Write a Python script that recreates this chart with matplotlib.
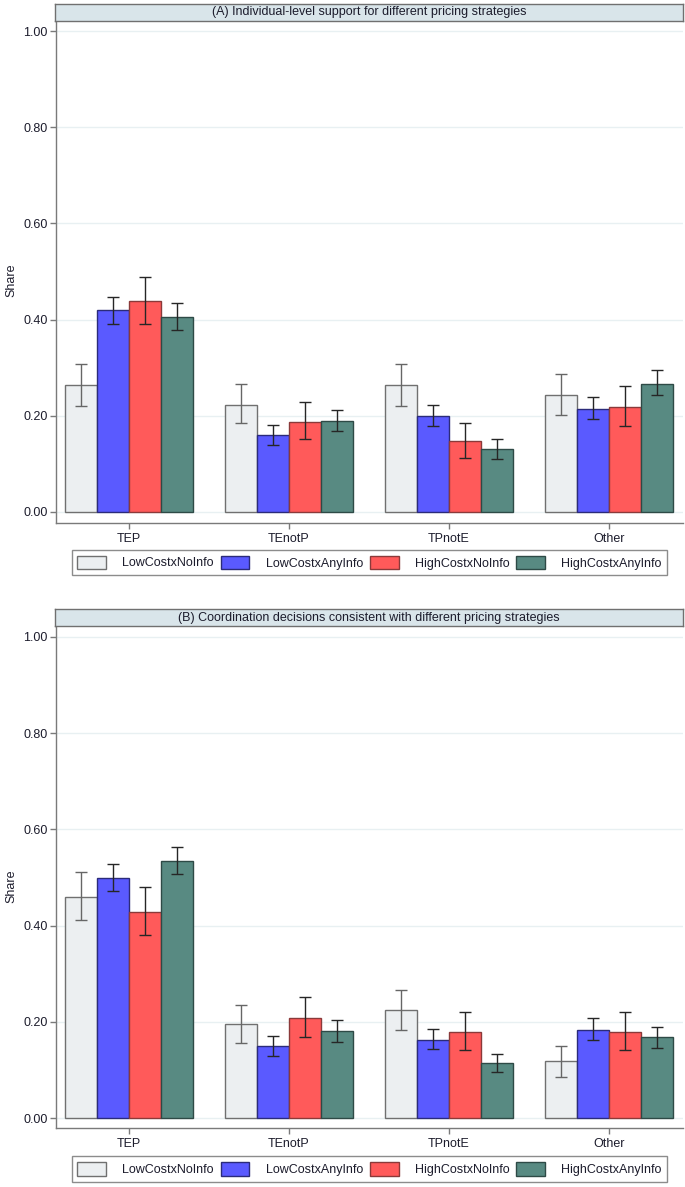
import numpy as np
import matplotlib
matplotlib.use('Agg')
import matplotlib.pyplot as plt
from matplotlib.patches import Patch

plt.rcParams['font.family'] = ['Liberation Sans', 'DejaVu Sans']

categories = ['TEP', 'TEnotP', 'TPnotE', 'Other']
groups = ['LowCostxNoInfo', 'LowCostxAnyInfo', 'HighCostxNoInfo', 'HighCostxAnyInfo']

# panel A: share, lower ci, upper ci (rows = groups, cols = categories)
a_val = [[0.263, 0.223, 0.263, 0.244],
         [0.419, 0.160, 0.199, 0.215],
         [0.438, 0.188, 0.148, 0.218],
         [0.405, 0.190, 0.131, 0.267]]
a_lo = [[0.220, 0.184, 0.220, 0.202],
        [0.391, 0.139, 0.178, 0.193],
        [0.390, 0.151, 0.113, 0.178],
        [0.379, 0.168, 0.111, 0.243]]
a_hi = [[0.307, 0.267, 0.307, 0.287],
        [0.448, 0.181, 0.222, 0.240],
        [0.489, 0.229, 0.185, 0.262],
        [0.435, 0.213, 0.151, 0.295]]

# panel B
b_val = [[0.459, 0.195, 0.224, 0.118],
         [0.499, 0.150, 0.163, 0.184],
         [0.429, 0.209, 0.179, 0.179],
         [0.534, 0.181, 0.114, 0.168]]
b_lo = [[0.411, 0.157, 0.184, 0.085],
        [0.472, 0.130, 0.143, 0.163],
        [0.381, 0.168, 0.142, 0.142],
        [0.507, 0.159, 0.097, 0.147]]
b_hi = [[0.511, 0.236, 0.267, 0.151],
        [0.529, 0.171, 0.186, 0.208],
        [0.480, 0.252, 0.220, 0.220],
        [0.564, 0.204, 0.133, 0.190]]

titles = ['(A) Individual-level support for different pricing strategies',
          '(B) Coordination decisions consistent with different pricing strategies']

fills = ['#eceff1', '#5a5aff', '#ff5a5a', '#588a82']
edges = ['#707070', '#2b2b7a', '#8a3a3a', '#2e4a46']
ecols = ['#666666', '#262626', '#262626', '#262626']
txt = '#1c1c2c'
fs = 9

W, H = 685, 1187
fig = plt.figure(figsize=(W / 100, H / 100), dpi=100)

def fx(px):
    return px / W

def fy(py):
    return 1 - py / H

# (strip top, strip bottom / plot top, axis line, y of 0, y of 1, legend top, legend bottom, ylabel y)
layout = [(4, 20.7, 523, 512, 31, 548, 577, 280),
          (609.3, 626, 1128.3, 1118.3, 636.7, 1154, 1184, 886)]
panels = [(a_val, a_lo, a_hi), (b_val, b_lo, b_hi)]

x = np.arange(1, len(categories) + 1)
bw = 0.2

for p in range(2):
    st, top, axl, y0, y1, lt, lb, yl = layout[p]
    vals, lo, hi = panels[p]
    scale = y0 - y1
    ax = fig.add_axes([fx(56), fy(axl), fx(683 - 56), (axl - top) / H])
    for g in range(4):
        xs = x + (g - 1.5) * bw
        v = np.array(vals[g])
        err = [v - np.array(lo[g]), np.array(hi[g]) - v]
        ax.bar(xs, v, width=bw, color=fills[g], edgecolor=edges[g], linewidth=1.0, zorder=2)
        ax.errorbar(xs, v, yerr=err, fmt='none', ecolor=ecols[g], elinewidth=1.0,
                    capsize=4, capthick=1.0, zorder=3)
    ax.set_xlim(0.544, 4.462)
    ax.set_ylim(-(axl - y0) / scale, 1 + (y1 - top) / scale)
    ax.set_yticks([0, 0.2, 0.4, 0.6, 0.8, 1.0])
    ax.set_yticklabels(['%.2f' % t for t in [0, 0.2, 0.4, 0.6, 0.8, 1.0]])
    ax.set_xticks(x)
    ax.set_xticklabels(categories)
    ax.grid(axis='y', color='#e8f0f2', linewidth=1.0, zorder=0)
    ax.set_axisbelow(True)
    for s in ['top', 'right']:
        ax.spines[s].set_visible(False)
    for s in ['left', 'bottom']:
        ax.spines[s].set_color('#7a7a7a')
        ax.spines[s].set_linewidth(1.0)
    ax.tick_params(axis='both', colors='#7a7a7a', labelcolor=txt, labelsize=fs,
                   length=4, width=1.0, pad=2)
    ax.tick_params(axis='x', pad=3)
    ax.set_ylabel('Share', fontsize=fs, color=txt)
    ax.yaxis.set_label_coords(-0.062, 1 - (yl - top) / (axl - top))

    # strip title
    sa = fig.add_axes([fx(55), fy(top), fx(683 - 55), (top - st) / H])
    sa.set_facecolor('#d9e5ea')
    sa.set_xticks([])
    sa.set_yticks([])
    for s in sa.spines.values():
        s.set_color('#707070')
        s.set_linewidth(1.0)
    sa.text(0.5, 0.5, titles[p], ha='center', va='center', fontsize=fs, color=txt,
            transform=sa.transAxes)

    handles = [Patch(facecolor=fills[g], edgecolor=edges[g], linewidth=1.0) for g in range(4)]
    leg = fig.legend(handles, groups, ncol=4, loc='center',
                     bbox_to_anchor=(fx((67 + 672) / 2), fy((lt + lb) / 2)),
                     fontsize=fs, frameon=True, fancybox=False,
                     handlelength=2.3, handleheight=1.3, handletextpad=1.3,
                     columnspacing=0.55, borderpad=0.45, borderaxespad=0)
    leg.get_frame().set_edgecolor('#707070')
    leg.get_frame().set_linewidth(1.0)
    for t in leg.get_texts():
        t.set_color(txt)

fig.savefig('out.png', dpi=100, facecolor='white')
